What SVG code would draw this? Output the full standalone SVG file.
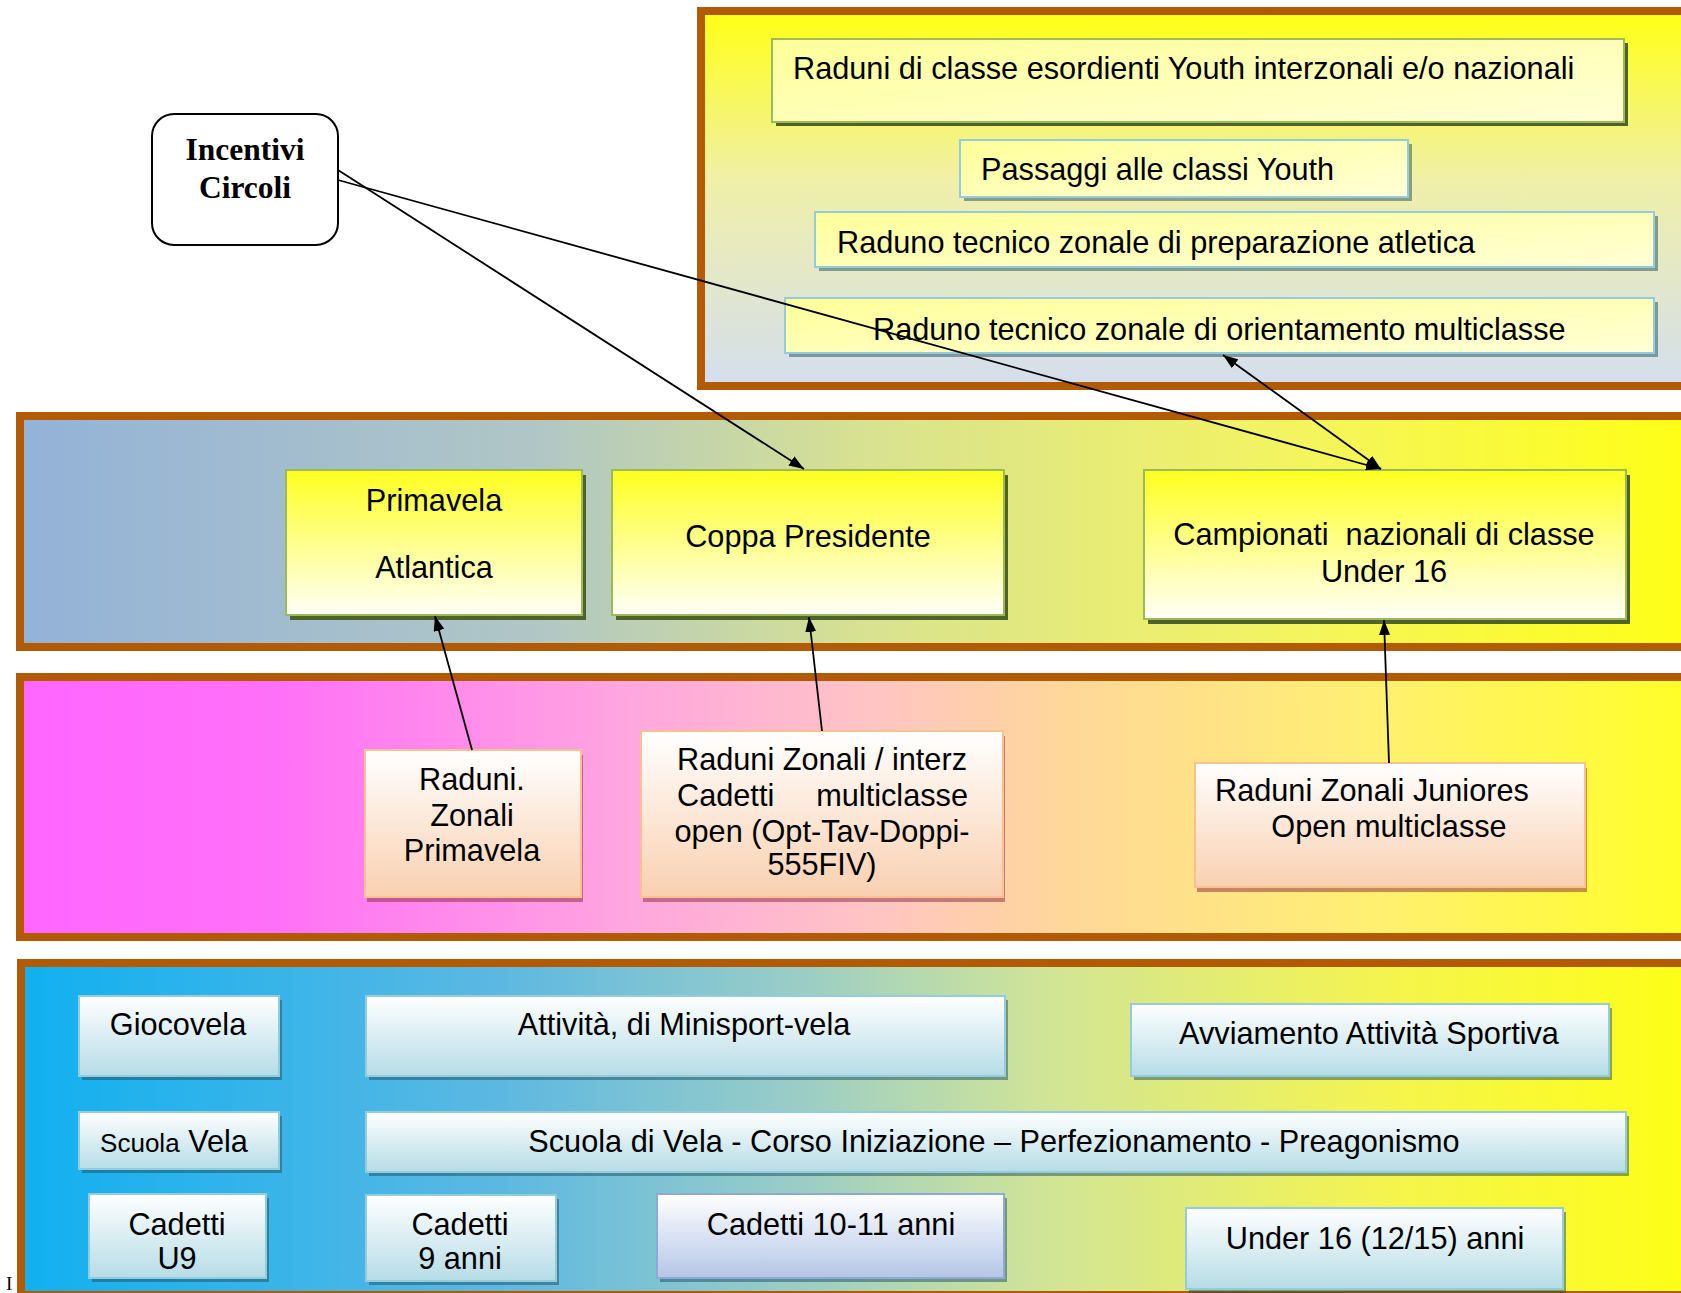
<svg xmlns="http://www.w3.org/2000/svg" width="1681" height="1293" viewBox="0 0 1681 1293">
<defs>
<style>
.t{font-family:"Liberation Sans",Arial,sans-serif;font-size:30.7px;fill:#000}
.c{text-anchor:middle}
.e{text-anchor:end}
.s{font-size:26px}
.inc{font-family:"Liberation Serif","Times New Roman",serif;font-size:31.5px;font-weight:bold;text-anchor:middle;fill:#000}
.panel{stroke:#B25B04;stroke-width:8}
.by{fill:url(#gYel);stroke:#9BBB59;stroke-width:2}
.byb{fill:url(#gYel);stroke:#93CDDD;stroke-width:2}
.bw{fill:url(#gYW);stroke:#9BBB59;stroke-width:2}
.bp{fill:url(#gPeach);stroke:#FAC090;stroke-width:2}
.bb{fill:url(#gBlue);stroke:#93CDDD;stroke-width:2}
.bl{fill:url(#gLav);stroke:#8EA9D8;stroke-width:2}
.shg{fill:#4F6228}
.sht{fill:#1F4E5A;opacity:0.5}
.shp{fill:#8C2840;opacity:0.5}
.con line{stroke:#000;stroke-width:1.8}
</style>
<linearGradient id="gTop" x1="0" y1="0" x2="0" y2="1">
<stop offset="0" stop-color="#FFFF14"/><stop offset="0.45" stop-color="#F0F0A8"/><stop offset="1" stop-color="#D4DEEE"/>
</linearGradient>
<linearGradient id="gP2" x1="0" y1="0" x2="1" y2="0">
<stop offset="0" stop-color="#93B2D8"/><stop offset="0.3" stop-color="#B0C6C6"/><stop offset="0.5" stop-color="#D8E290"/><stop offset="0.75" stop-color="#F4F460"/><stop offset="1" stop-color="#FFFF10"/>
</linearGradient>
<linearGradient id="gP3" x1="0" y1="0" x2="1" y2="0">
<stop offset="0" stop-color="#FF66FF"/><stop offset="0.15" stop-color="#FF70F8"/><stop offset="0.35" stop-color="#FFA4E0"/><stop offset="0.5" stop-color="#FFC4C4"/><stop offset="0.62" stop-color="#FFD898"/><stop offset="0.8" stop-color="#FFF070"/><stop offset="1" stop-color="#FFFF20"/>
</linearGradient>
<linearGradient id="gP4" x1="0" y1="0" x2="1" y2="0">
<stop offset="0" stop-color="#10B0F0"/><stop offset="0.28" stop-color="#5CB8E2"/><stop offset="0.45" stop-color="#98CCC8"/><stop offset="0.6" stop-color="#D0E498"/><stop offset="0.8" stop-color="#F4F450"/><stop offset="1" stop-color="#FFFF10"/>
</linearGradient>
<linearGradient id="gYel" x1="0" y1="0" x2="1" y2="1">
<stop offset="0" stop-color="#FFFF99"/><stop offset="1" stop-color="#FFFFD6"/>
</linearGradient>
<linearGradient id="gYW" x1="0" y1="0" x2="0" y2="1">
<stop offset="0" stop-color="#FFFF1E"/><stop offset="1" stop-color="#FFFFF8"/>
</linearGradient>
<linearGradient id="gPeach" x1="0" y1="0" x2="0" y2="1">
<stop offset="0" stop-color="#FFFFFF"/><stop offset="1" stop-color="#F9D0B0"/>
</linearGradient>
<linearGradient id="gBlue" x1="0" y1="0" x2="0" y2="1">
<stop offset="0" stop-color="#FFFFFF"/><stop offset="1" stop-color="#B6DCE6"/>
</linearGradient>
<linearGradient id="gLav" x1="0" y1="0" x2="0" y2="1">
<stop offset="0" stop-color="#FFFFFF"/><stop offset="1" stop-color="#B4C6E6"/>
</linearGradient>
<marker id="ah" viewBox="0 0 15 11" refX="15" refY="5.5" markerWidth="15" markerHeight="11" markerUnits="userSpaceOnUse" orient="auto-start-reverse">
<path d="M0,0 L15,5.5 L0,11 z" fill="#000"/>
</marker>
</defs>
<rect width="1681" height="1293" fill="#FFFFFF"/>

<g id="panel-top">
<rect class="panel" x="701" y="11" width="1000" height="375" fill="url(#gTop)"/>
</g>
<g id="panel-agonismo">
<rect class="panel" x="20" y="416" width="1700" height="231" fill="url(#gP2)"/>
</g>
<g id="panel-raduni">
<rect class="panel" x="20" y="677" width="1700" height="260" fill="url(#gP3)"/>
</g>
<g id="panel-base">
<rect class="panel" x="21" y="963" width="1700" height="332" fill="url(#gP4)"/>
</g>

<g id="n-raduni-classe">
<rect class="shg" x="776" y="43" width="852" height="83"/>
<rect class="by" x="772" y="39" width="852" height="83"/>
<text class="t" x="793" y="79">Raduni di classe esordienti Youth interzonali e/o nazionali</text>
</g>
<g id="n-passaggi">
<rect class="sht" x="964" y="144" width="448" height="57"/>
<rect class="byb" x="960" y="140" width="448" height="57"/>
<text class="t" x="981" y="180">Passaggi alle classi Youth</text>
</g>
<g id="n-preparazione">
<rect class="sht" x="819" y="216" width="839" height="55"/>
<rect class="byb" x="815" y="212" width="839" height="55"/>
<text class="t" x="837" y="253">Raduno tecnico zonale di preparazione atletica</text>
</g>
<g id="n-orientamento">
<rect class="sht" x="789" y="302" width="869" height="55"/>
<rect class="byb" x="785" y="298" width="869" height="55"/>
<text class="t" x="873" y="340">Raduno tecnico zonale di orientamento multiclasse</text>
</g>

<g id="n-incentivi">
<rect x="152" y="114" width="186" height="131" rx="22" ry="22" fill="#FFFFFF" stroke="#000" stroke-width="2"/>
<text class="inc" x="245" y="160">Incentivi</text>
<text class="inc" x="245" y="198">Circoli</text>
</g>

<g id="n-primavela">
<rect class="shg" x="290" y="475" width="296" height="145"/>
<rect class="bw" x="286" y="470" width="296" height="145"/>
<text class="t c" x="434" y="511">Primavela</text>
<text class="t c" x="434" y="578">Atlantica</text>
</g>
<g id="n-coppa">
<rect class="shg" x="616" y="475" width="392" height="145"/>
<rect class="bw" x="612" y="470" width="392" height="145"/>
<text class="t c" x="808" y="547">Coppa Presidente</text>
</g>
<g id="n-campionati">
<rect class="shg" x="1148" y="475" width="482" height="149"/>
<rect class="bw" x="1144" y="470" width="482" height="149"/>
<text class="t c" x="1384" y="545" xml:space="preserve">Campionati  nazionali di classe</text>
<text class="t c" x="1384" y="582">Under 16</text>
</g>

<g id="n-raduni-primavela">
<rect class="shp" x="367" y="755" width="216" height="147"/>
<rect class="bp" x="365" y="750" width="216" height="147"/>
<text class="t c" x="472" y="790">Raduni.</text>
<text class="t c" x="472" y="826">Zonali</text>
<text class="t c" x="472" y="861">Primavela</text>
</g>
<g id="n-raduni-cadetti">
<rect class="shp" x="643" y="736" width="362" height="166"/>
<rect class="bp" x="641" y="731" width="362" height="166"/>
<text class="t c" x="822" y="770">Raduni Zonali / interz</text>
<text class="t" x="677" y="806">Cadetti</text>
<text class="t e" x="968" y="806">multiclasse</text>
<text class="t c" x="822" y="842">open (Opt-Tav-Doppi-</text>
<text class="t c" x="822" y="875">555FIV)</text>
</g>
<g id="n-raduni-juniores">
<rect class="shp" x="1197" y="768" width="390" height="124"/>
<rect class="bp" x="1195" y="763" width="390" height="124"/>
<text class="t" x="1215" y="801">Raduni Zonali Juniores</text>
<text class="t c" x="1389" y="837">Open multiclasse</text>
</g>

<g id="n-giocovela">
<rect class="sht" x="82" y="1000" width="200" height="80"/>
<rect class="bb" x="79" y="996" width="200" height="80"/>
<text class="t c" x="178" y="1035">Giocovela</text>
</g>
<g id="n-minisport">
<rect class="sht" x="369" y="1000" width="639" height="80"/>
<rect class="bb" x="366" y="996" width="639" height="80"/>
<text class="t c" x="684" y="1035">Attività, di Minisport-vela</text>
</g>
<g id="n-avviamento">
<rect class="sht" x="1134" y="1008" width="478" height="72"/>
<rect class="bb" x="1131" y="1004" width="478" height="72"/>
<text class="t c" x="1369" y="1044">Avviamento Attività Sportiva</text>
</g>
<g id="n-scuola">
<rect class="sht" x="82" y="1116" width="200" height="57"/>
<rect class="bb" x="79" y="1112" width="200" height="57"/>
<text class="t c" x="174" y="1152"><tspan class="s">Scuola</tspan> Vela</text>
</g>
<g id="n-scuola-corso">
<rect class="sht" x="369" y="1116" width="1260" height="60"/>
<rect class="bb" x="366" y="1112" width="1260" height="60"/>
<text class="t c" x="994" y="1152">Scuola di Vela - Corso Iniziazione – Perfezionamento - Preagonismo</text>
</g>
<g id="n-cadetti-u9">
<rect class="sht" x="92" y="1198" width="177" height="84"/>
<rect class="bb" x="89" y="1194" width="177" height="84"/>
<text class="t c" x="177" y="1235">Cadetti</text>
<text class="t c" x="177" y="1269">U9</text>
</g>
<g id="n-cadetti-9">
<rect class="sht" x="369" y="1199" width="190" height="86"/>
<rect class="bb" x="366" y="1195" width="190" height="86"/>
<text class="t c" x="460" y="1235">Cadetti</text>
<text class="t c" x="460" y="1269">9 anni</text>
</g>
<g id="n-cadetti-10">
<rect class="sht" x="660" y="1198" width="347" height="84"/>
<rect class="bl" x="657" y="1194" width="347" height="84"/>
<text class="t c" x="831" y="1235">Cadetti 10-11 anni</text>
</g>
<g id="n-under16">
<rect class="sht" x="1189" y="1212" width="377" height="81"/>
<rect class="bb" x="1186" y="1208" width="377" height="81"/>
<text class="t c" x="1375" y="1249">Under 16 (12/15) anni</text>
</g>

<text id="stray-I" x="6" y="1290" font-family="'Liberation Serif','Times New Roman',serif" font-size="19">I</text>

<g id="connectors" class="con">
<line x1="338" y1="170" x2="804" y2="469" marker-end="url(#ah)"/>
<line x1="338" y1="180" x2="1381" y2="469" marker-end="url(#ah)"/>
<line x1="1381" y1="469" x2="1223" y2="355" marker-start="url(#ah)" marker-end="url(#ah)"/>
<line x1="472" y1="750" x2="435" y2="616" marker-end="url(#ah)"/>
<line x1="822" y1="731" x2="809" y2="617" marker-end="url(#ah)"/>
<line x1="1389" y1="763" x2="1384" y2="620" marker-end="url(#ah)"/>
</g>
</svg>
